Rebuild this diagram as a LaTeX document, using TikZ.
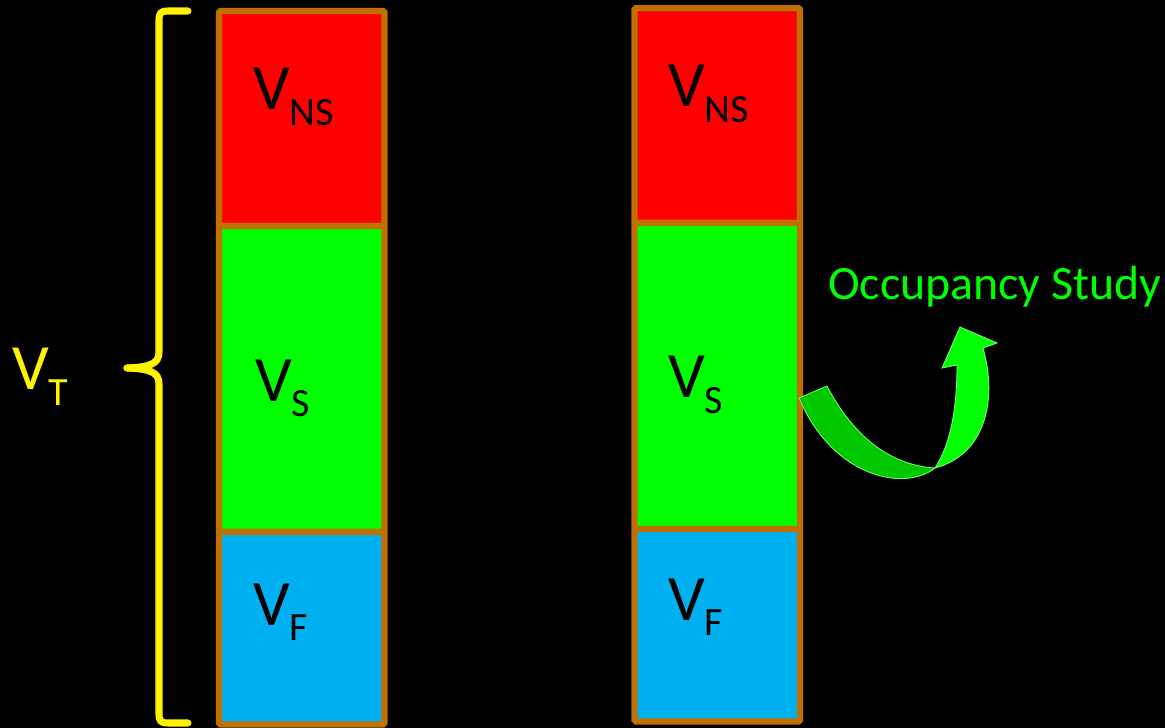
\documentclass[tikz,border=0pt]{standalone}
\usepackage{fontspec}
\setmainfont{Carlito}
\usepackage{tikz}
\usetikzlibrary{arrows.meta,calc}

\definecolor{frame}{RGB}{192,112,0}
\definecolor{nsred}{RGB}{255,0,0}
\definecolor{sgreen}{RGB}{0,255,0}
\definecolor{fblue}{RGB}{0,176,240}
\definecolor{darkrib}{RGB}{0,200,0}
\definecolor{ribedge}{RGB}{110,255,110}

\newcommand{\vsub}[1]{V\raisebox{-10.7pt}{\fontsize{28.5}{28.5}\selectfont #1}}

\tikzset{
  cell/.style={draw=frame, line width=4.3pt, rounded corners=1pt},
  brace/.style={draw=yellow, line width=5pt, line cap=round},
  vlbl/.style={anchor=base west, inner sep=0pt, font=\fontsize{46}{46}\selectfont},
}

\begin{document}
\begin{tikzpicture}[x=0.025cm, y=-0.025cm, >=Stealth]

\fill[black] (0,0) rectangle (1165,728);
\useasboundingbox (0,0) rectangle (1165,728);

\coordinate (L1) at (219,11);
\coordinate (L2) at (384.5,226);
\coordinate (L3) at (219,532);
\coordinate (L4) at (384.5,724.5);

\coordinate (R1) at (634.5,8);
\coordinate (R2) at (800,223);
\coordinate (R3) at (634.5,529);
\coordinate (R4) at (800,721.5);

\draw[cell, fill=nsred] (L1) rectangle (L2);
\draw[cell, fill=sgreen] (L1 |- L2) rectangle (L2 |- L3);
\draw[cell, fill=fblue] (L3) rectangle (L4);

\draw[cell, fill=nsred] (R1) rectangle (R2);
\draw[cell, fill=sgreen] (R1 |- R2) rectangle (R2 |- R3);
\draw[cell, fill=fblue] (R3) rectangle (R4);

\draw[brace] (188,11) -- (168,11) .. controls (161,11) and (159,13) .. (159,20)
  -- (159,352) .. controls (159,364) and (150,367) .. (127,368);
\draw[brace] (127,368) .. controls (150,369) and (159,372) .. (159,384)
  -- (159,714) .. controls (159,721) and (161,723) .. (168,723) -- (188,723);

\node[vlbl, text=yellow] (vt) at (12,390) {\vsub{T}};

\node[vlbl] (lns) at (253,110) {\vsub{NS}};
\node[vlbl] (ls) at (255,401) {\vsub{S}};
\node[vlbl] (lf) at (253,625) {\vsub{F}};

\node[vlbl] (rns) at (668,107) {\vsub{NS}};
\node[vlbl] (rs) at (668,398) {\vsub{S}};
\node[vlbl] (rf) at (668,620) {\vsub{F}};

\filldraw[fill=darkrib, draw=ribedge, line width=0.6pt]
  (799,398) -- (827,386) .. controls (850,430) and (885,465) .. (935,468)
  .. controls (905,492) and (833,478) .. (799,398) -- cycle;
\filldraw[fill=sgreen, draw=ribedge, line width=0.6pt]
  (935,468) .. controls (950,445) and (957,410) .. (957,365)
  -- (942,368) -- (960,327) -- (997,343) -- (983,348)
  .. controls (998,400) and (985,455) .. (935,468) -- cycle;

\node[anchor=base west, inner sep=0pt, text=sgreen, font=\fontsize{34}{34}\selectfont]
  (occ) at (828,300) {Occupancy Study};

\end{tikzpicture}
\end{document}
